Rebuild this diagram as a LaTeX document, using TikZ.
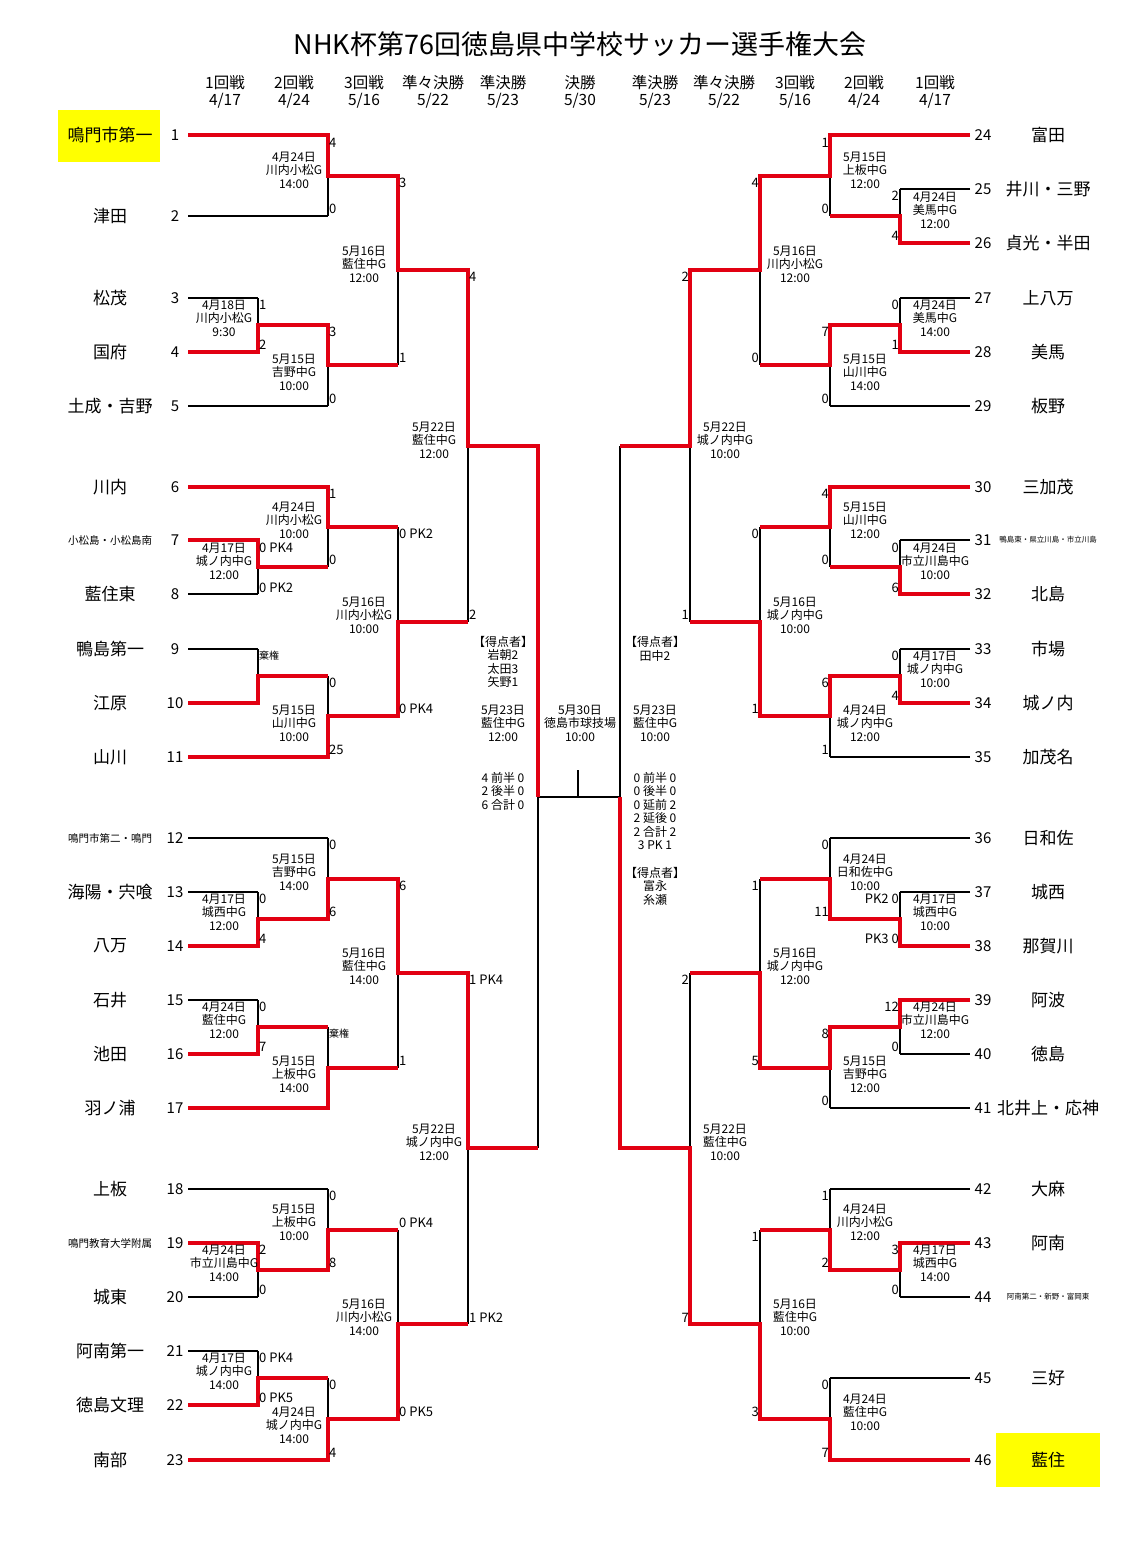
\documentclass[tikz,border=0pt]{standalone}
\usepackage{fontspec}
\setmainfont{Noto Sans CJK JP}
\usepackage{xcolor}
\definecolor{winred}{RGB}{226,0,18}
\definecolor{hiyellow}{RGB}{255,255,0}
\tikzset{base/.style={draw,line width=1.4pt},
    win/.style={draw=winred,line width=3.6pt,line join=miter},
    team/.style={font=\fontsize{17}{17}\selectfont,inner sep=0pt},
    smallteam/.style={font=\fontsize{10.5}{10.5}\selectfont,inner sep=0pt},
    tinyteam/.style={font=\fontsize{7.5}{7.5}\selectfont,inner sep=0pt},
    num/.style={font=\fontsize{15}{15}\selectfont,inner sep=0pt},
    info/.style={font=\fontsize{12}{13.5}\selectfont,align=center,inner sep=0pt},
    scL/.style={font=\fontsize{13}{13}\selectfont,anchor=west,inner sep=1pt},
    scR/.style={font=\fontsize{13}{13}\selectfont,anchor=east,inner sep=1pt},
    head/.style={font=\fontsize{15.5}{17}\selectfont,align=center,inner sep=0pt}}
\begin{document}
\begin{tikzpicture}[x=1pt,y=-1pt]
            \useasboundingbox (0,0) rectangle (1122,1551);
            % yellow boxes
            \fill[hiyellow] (58,110) rectangle (160,162);
            \fill[hiyellow] (996,1433) rectangle (1100,1487);
            % title and round headers
            \node[font=\fontsize{27}{27}\selectfont] (title) at (580,44) {NHK杯第76回徳島県中学校サッカー選手権大会};
            \foreach \x/\r/\m/\d [count=\k] in {225/1回戦/4/17,294/2回戦/4/24,364/3回戦/5/16,433/準々決勝/5/22,503/準決勝/5/23,
                580/決勝/5/30,655/準決勝/5/23,724/準々決勝/5/22,795/3回戦/5/16,864/2回戦/4/24,935/1回戦/4/17}
                \node[head] (h\k) at (\x,92) {\r\\\m/\d};
            % left teams
            \foreach \i/\y/\n/\s in {1/135/鳴門市第一/team,2/216/津田/team,3/298/松茂/team,4/352/国府/team,5/406/土成・吉野/team,
                6/487/川内/team,7/540/小松島・小松島南/smallteam,8/594/藍住東/team,9/649/鴨島第一/team,10/703/江原/team,
                11/757/山川/team,12/838/鳴門市第二・鳴門/smallteam,13/892/海陽・宍喰/team,14/946/八万/team,15/1000/石井/team,
                16/1054/池田/team,17/1108/羽ノ浦/team,18/1189/上板/team,19/1243/鳴門教育大学附属/smallteam,20/1297/城東/team,
                21/1351/阿南第一/team,22/1405/徳島文理/team,23/1460/南部/team}
            {
                \node[\s] (t\i) at (110,\y) {\n};
                \node[num] (n\i) at (175,\y) {\i};
            }
            % right teams
            \foreach \i/\y/\n/\s in {24/135/富田/team,25/189/井川・三野/team,26/243/貞光・半田/team,27/298/上八万/team,28/352/美馬/team,
                29/406/板野/team,30/487/三加茂/team,31/540/鴨島東・県立川島・市立川島/tinyteam,32/594/北島/team,33/649/市場/team,
                34/703/城ノ内/team,35/757/加茂名/team,36/838/日和佐/team,37/892/城西/team,38/946/那賀川/team,39/1000/阿波/team,
                40/1054/徳島/team,41/1108/北井上・応神/team,42/1189/大麻/team,43/1243/阿南/team,44/1297/阿南第二・新野・富岡東/tinyteam,
                45/1378/三好/team,46/1460/藍住/team}
            {
                \node[\s] (t\i) at (1048,\y) {\n};
                \node[num] (n\i) at (983,\y) {\i};
            }
            % team lines
            \foreach \y/\x in {135/328,216/328,298/258,352/258,406/328,487/328,540/258,594/258,649/258,703/258,757/328,
                838/328,892/258,946/258,1000/258,1054/258,1108/328,1189/328,1243/258,1297/258,1351/258,1405/258,1460/328}
                \draw[base] (188,\y) -- (\x,\y);
            \foreach \y/\x in {135/830,189/900,243/900,298/900,352/900,406/830,487/830,540/900,594/900,649/900,703/900,757/830,
                838/830,892/900,946/900,1000/900,1054/900,1108/830,1189/830,1243/900,1297/900,1378/830,1460/830}
                \draw[base] (970,\y) -- (\x,\y);
            % left matches
            \foreach \x/\a/\b/\m in {258/298/352/325,258/540/594/567,258/649/703/676,258/892/946/919,258/1000/1054/1027,
                258/1243/1297/1270,258/1351/1405/1378,328/135/216/176,328/325/406/365,328/487/567/527,328/676/757/716,
                328/838/919/879,328/1027/1108/1068,328/1189/1270/1230,328/1378/1460/1419,398/176/365/270,398/527/716/622,
                398/879/1068/973,398/1230/1419/1324,468/270/622/446,468/973/1324/1148}
                \draw[base] (\x,\a) -- (\x,\b) (\x,\m) -- ++(70,0);
            % right matches
            \foreach \x/\a/\b/\m in {900/189/243/216,900/298/352/325,900/540/594/567,900/649/703/676,900/892/946/919,
                900/1000/1054/1027,900/1243/1297/1270,830/135/216/176,830/325/406/365,830/487/567/527,830/676/757/716,
                830/838/919/879,830/1027/1108/1068,830/1189/1270/1230,830/1378/1460/1419,760/176/365/270,760/527/716/622,
                760/879/1068/973,760/1230/1419/1324,690/270/622/446,690/973/1324/1148}
                \draw[base] (\x,\a) -- (\x,\b) (\x,\m) -- ++(-70,0);
            % semifinals and final
            \coordinate (fl) at (538,797);
            \coordinate (fr) at (620,797);
            \coordinate (fc) at (578,770);
            \draw[base] (538,446) -- (538,1148) (620,446) -- (620,1148);
            \draw[base] (fl) -- (fr) (fc) -- (fc |- fl);
            % winners, left
            \draw[win] (188,135) -| (328,176) -| (398,270) -| (468,446) -| (fl);
            \draw[win] (188,352) -| (258,325) -| (328,365) -- (398,365);
            \draw[win] (188,487) -| (328,527) -- (398,527);
            \draw[win] (188,540) -| (258,567) -- (328,567);
            \draw[win] (188,703) -| (258,676) -- (328,676);
            \draw[win] (188,757) -| (328,716) -| (398,622) -- (468,622);
            \draw[win] (188,946) -| (258,919) -| (328,879) -| (398,973) -| (468,1148) -- (538,1148);
            \draw[win] (188,1054) -| (258,1027) -- (328,1027);
            \draw[win] (188,1108) -| (328,1068) -- (398,1068);
            \draw[win] (188,1243) -| (258,1270) -| (328,1230) -- (398,1230);
            \draw[win] (188,1405) -| (258,1378) -- (328,1378);
            \draw[win] (188,1460) -| (328,1419) -| (398,1324) -- (468,1324);
            % winners, right
            \draw[win] (970,135) -| (830,176) -| (760,270) -| (690,446) -- (620,446);
            \draw[win] (970,243) -| (900,216) -- (830,216);
            \draw[win] (970,352) -| (900,325) -| (830,365) -- (760,365);
            \draw[win] (970,487) -| (830,527) -- (760,527);
            \draw[win] (970,594) -| (900,567) -- (830,567);
            \draw[win] (970,703) -| (900,676) -| (830,716) -| (760,622) -- (690,622);
            \draw[win] (970,946) -| (900,919) -| (830,879) -- (760,879);
            \draw[win] (970,1000) -| (900,1027) -| (830,1068) -| (760,973) -- (690,973);
            \draw[win] (970,1243) -| (900,1270) -| (830,1230) -- (760,1230);
            \draw[win] (970,1460) -| (830,1419) -| (760,1324) -| (690,1148) -| (fr);
            % scores
            \foreach \x/\y/\s in {328/143/4,328/209/0,398/183/3,398/358/1,258/305/1,258/345/2,328/332/3,328/399/0,468/277/4,
                468/615/2,328/494/1,328/560/0,258/548/0 PK4,258/588/0 PK2,398/534/0 PK2,398/709/0 PK4,258/656/{\fontsize{10}{10}\selectfont 棄権},
                328/683/0,328/750/25,328/845/0,328/912/6,258/899/0,258/939/4,398/886/6,398/1061/1,468/980/1 PK4,468/1318/1 PK2,
                258/1007/0,258/1047/7,328/1034/{\fontsize{10}{10}\selectfont 棄権},328/1196/0,328/1263/8,258/1250/2,258/1290/0,398/1223/0 PK4,
                398/1412/0 PK5,258/1358/0 PK4,258/1398/0 PK5,328/1385/0,328/1453/4}
                \node[scL] at (\x,\y) {\s};
            \foreach \x/\y/\s in {830/143/1,830/209/0,900/196/2,900/236/4,760/183/4,760/358/0,900/305/0,900/345/1,830/332/7,
                830/399/0,690/277/2,690/615/1,830/494/4,830/560/0,900/548/0,900/588/6,760/534/0,760/709/1,900/656/0,900/696/4,
                830/683/6,830/750/1,830/845/0,830/912/11,900/899/PK2 0,900/939/PK3 0,760/886/1,760/1061/5,900/1007/12,900/1047/0,
                830/1034/8,830/1101/0,690/980/2,690/1318/7,830/1196/1,830/1263/2,900/1250/3,900/1290/0,760/1237/1,760/1412/3,
                830/1385/0,830/1453/7}
                \node[scR] at (\x,\y) {\s};
            % match infos
            \foreach \x/\y/\d/\g/\t in {224/318/4月18日/川内小松G/9:30,294/170/4月24日/川内小松G/14:00,294/372/5月15日/吉野中G/10:00,
                364/264/5月16日/藍住中G/12:00,434/440/5月22日/藍住中G/12:00,294/520/4月24日/川内小松G/10:00,
                224/561/4月17日/城ノ内中G/12:00,294/723/5月15日/山川中G/10:00,364/615/5月16日/川内小松G/10:00,
                294/872/5月15日/吉野中G/14:00,224/912/4月17日/城西中G/12:00,224/1020/4月24日/藍住中G/12:00,
                294/1074/5月15日/上板中G/14:00,364/966/5月16日/藍住中G/14:00,434/1142/5月22日/城ノ内中G/12:00,
                294/1222/5月15日/上板中G/10:00,224/1263/4月24日/市立川島中G/14:00,224/1371/4月17日/城ノ内中G/14:00,
                294/1425/4月24日/城ノ内中G/14:00,364/1317/5月16日/川内小松G/14:00,
                503/723/5月23日/藍住中G/12:00,580/723/5月30日/徳島市球技場/10:00,655/723/5月23日/藍住中G/10:00,
                865/170/5月15日/上板中G/12:00,935/210/4月24日/美馬中G/12:00,935/318/4月24日/美馬中G/14:00,
                865/372/5月15日/山川中G/14:00,795/264/5月16日/川内小松G/12:00,725/440/5月22日/城ノ内中G/10:00,
                865/520/5月15日/山川中G/12:00,935/561/4月24日/市立川島中G/10:00,935/669/4月17日/城ノ内中G/10:00,
                865/723/4月24日/城ノ内中G/12:00,795/615/5月16日/城ノ内中G/10:00,865/872/4月24日/日和佐中G/10:00,
                935/912/4月17日/城西中G/10:00,935/1020/4月24日/市立川島中G/12:00,865/1074/5月15日/吉野中G/12:00,
                795/966/5月16日/城ノ内中G/12:00,725/1142/5月22日/藍住中G/10:00,865/1222/4月24日/川内小松G/12:00,
                935/1263/4月17日/城西中G/14:00,865/1412/4月24日/藍住中G/10:00,795/1317/5月16日/藍住中G/10:00}
                \node[info] at (\x,\y) {\d\\\g\\\t};
            % semifinal notes
            \node[info] (scoreL) at (503,662) {【得点者】\\岩朝2\\太田3\\矢野1};
            \node[info] (resL) at (503,791) {4 前半 0\\2 後半 0\\6 合計 0};
            \node[info] (scoreR) at (655,649) {【得点者】\\田中2};
            \node[info] (resR) at (655,811) {0 前半 0\\0 後半 0\\0 延前 2\\2 延後 0\\2 合計 2\\3 PK 1};
            \node[info] (scoreR2) at (655,886) {【得点者】\\富永\\糸瀬};
        \end{tikzpicture}
\end{document}
